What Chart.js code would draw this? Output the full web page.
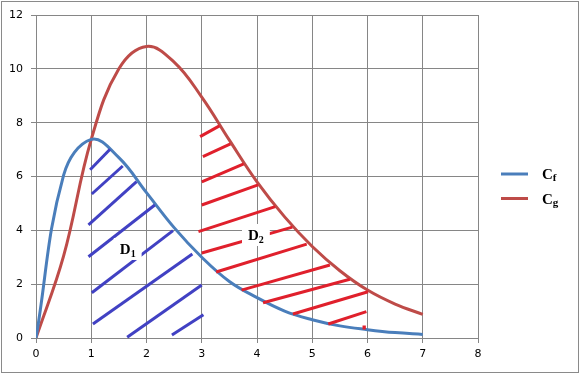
<!DOCTYPE html>
<html>
<head>
<meta charset="utf-8">
<script src="https://cdn.jsdelivr.net/npm/chart.js@4.4.0/dist/chart.umd.min.js"></script>
<style>
  html, body { margin: 0; padding: 0; background: #fff; }
  #wrap { width: 585px; height: 377px; }
</style>
</head>
<body>
<div id="wrap"><canvas id="grafico" width="585" height="377"></canvas></div>
<script>
// valores
const tempos = [0, 0.5, 1, 1.5, 2, 2.5, 3, 3.5, 4, 4.5, 5, 5.5, 6, 6.5, 7];
const valoresCf = [0, 6.05, 7.38, 6.7, 5.4, 4.1, 3.0, 2.1, 1.5, 1.0, 0.68, 0.45, 0.31, 0.2, 0.13];
const valoresCg = [0, 3.05, 7.38, 10.0, 10.83, 10.25, 8.95, 7.35, 5.8, 4.5, 3.4, 2.5, 1.78, 1.26, 0.88];
const nomesSeries = ['Cf', 'Cg'];
const coresSeries = ['#4A7EBB', '#BE4B48'];

// hachuras (x1, y1, x2, y2) em unidades do gráfico
const hachuraD1 = [
  [0.98, 6.25, 1.34, 7.01],
  [1.01, 5.35, 1.57, 6.39],
  [0.95, 4.20, 1.82, 5.81],
  [0.95, 3.02, 2.15, 4.94],
  [1.01, 1.68, 2.48, 3.99],
  [1.03, 0.52, 2.83, 3.12],
  [1.65, 0.03, 3.00, 1.97],
  [2.46, 0.11, 3.03, 0.86]
];
const hachuraD2 = [
  [2.97, 7.48, 3.32, 7.88],
  [3.02, 6.74, 3.52, 7.21],
  [3.00, 5.80, 3.76, 6.47],
  [3.00, 4.94, 4.02, 5.69],
  [2.94, 3.95, 4.33, 4.88],
  [3.00, 3.16, 4.64, 4.12],
  [3.26, 2.45, 4.90, 3.49],
  [3.72, 1.78, 5.32, 2.71],
  [4.11, 1.31, 5.68, 2.18],
  [4.65, 0.89, 6.01, 1.72],
  [5.29, 0.52, 5.98, 0.98],
  [5.91, 0.39, 5.97, 0.39]
];
// rótulos das regiões: [texto, índice, x, y]
const rotulos = [
  ['D', '1', 1.66, 3.27],
  ['D', '2', 3.98, 3.79]
];

function pontos(ys) {
  return tempos.map((t, i) => ({ x: t, y: ys[i] }));
}

const extras = {
  id: 'extras',
  beforeDraw(chart) {
    const ctx = chart.ctx;
    ctx.save();
    ctx.fillStyle = '#fff';
    ctx.fillRect(0, 0, chart.width, chart.height);
    ctx.strokeStyle = '#8a8a8a';
    ctx.lineWidth = 1;
    ctx.strokeRect(1.5, 1.5, 577, 371);
    ctx.restore();
  },
  afterDatasetsDraw(chart) {
    const ctx = chart.ctx;
    const sx = chart.scales.x, sy = chart.scales.y;
    ctx.save();
    ctx.lineWidth = 3;
    ctx.lineCap = 'butt';
    const desenha = (lista, cor) => {
      ctx.strokeStyle = cor;
      lista.forEach(s => {
        ctx.beginPath();
        ctx.moveTo(sx.getPixelForValue(s[0]), sy.getPixelForValue(s[1]));
        if (Math.abs(s[2] - s[0]) < 0.1) {
          ctx.lineWidth = 4;
        }
        ctx.lineTo(sx.getPixelForValue(s[2]), sy.getPixelForValue(s[3]));
        ctx.stroke();
        ctx.lineWidth = 3;
      });
    };
    desenha(hachuraD1, '#4141C3');
    desenha(hachuraD2, '#E0202C');

    // rótulos D1, D2 com fundo branco
    rotulos.forEach(r => {
      const cx = sx.getPixelForValue(r[2]);
      const cy = sy.getPixelForValue(r[3]);
      ctx.font = 'bold 15px "Liberation Serif"';
      const w1 = ctx.measureText(r[0]).width;
      ctx.font = 'bold 10px "Liberation Serif"';
      const w2 = ctx.measureText(r[1]).width;
      const w = w1 + w2;
      ctx.fillStyle = '#fff';
      ctx.fillRect(cx - w / 2 - 6, cy - 12, w + 12, 22);
      ctx.fillStyle = '#000';
      ctx.textBaseline = 'alphabetic';
      ctx.textAlign = 'left';
      ctx.font = 'bold 15px "Liberation Serif"';
      ctx.fillText(r[0], cx - w / 2, cy + 4);
      ctx.font = 'bold 10px "Liberation Serif"';
      ctx.fillText(r[1], cx - w / 2 + w1, cy + 7);
    });

    // legenda
    nomesSeries.forEach((nome, i) => {
      const y = 174 + i * 24.5;
      ctx.strokeStyle = coresSeries[i];
      ctx.lineWidth = 3;
      ctx.beginPath();
      ctx.moveTo(501, y);
      ctx.lineTo(528, y);
      ctx.stroke();
      ctx.fillStyle = '#000';
      ctx.textAlign = 'left';
      ctx.font = 'bold 15px "Liberation Serif"';
      ctx.fillText(nome[0], 542, y + 5);
      const wc = ctx.measureText(nome[0]).width;
      ctx.font = 'bold 11px "Liberation Serif"';
      ctx.fillText(nome.slice(1), 542 + wc, y + 7);
    });
    ctx.restore();
  }
};

new Chart(document.getElementById('grafico').getContext('2d'), {
  type: 'scatter',
  data: {
    datasets: [
      {
        label: nomesSeries[0],
        data: pontos(valoresCf),
        showLine: true,
        borderColor: coresSeries[0],
        borderWidth: 3,
        pointRadius: 0,
        tension: 0.4
      },
      {
        label: nomesSeries[1],
        data: pontos(valoresCg),
        showLine: true,
        borderColor: coresSeries[1],
        borderWidth: 3,
        pointRadius: 0,
        tension: 0.4
      }
    ]
  },
  options: {
    responsive: false,
    animation: false,
    layout: { padding: { top: 15, right: 107, left: 0, bottom: 0 } },
    plugins: { legend: { display: false }, tooltip: { enabled: false } },
    scales: {
      x: {
        type: 'linear',
        min: 0,
        max: 8,
        afterFit: s => { s.height = 39; },
        ticks: { stepSize: 1, color: '#000', padding: 5, maxRotation: 0, font: { family: 'DejaVu Sans', size: 11 } },
        grid: { color: '#868686', lineWidth: 1, tickLength: 5, tickColor: '#868686' },
        border: { color: '#868686', width: 1 }
      },
      y: {
        min: 0,
        max: 12,
        afterFit: s => { s.width = 36; },
        ticks: { stepSize: 2, color: '#000', padding: 8, font: { family: 'DejaVu Sans', size: 11 } },
        grid: { color: '#868686', lineWidth: 1, tickLength: 5, tickColor: '#868686' },
        border: { color: '#868686', width: 1 }
      }
    }
  },
  plugins: [extras]
});
</script>
</body>
</html>
